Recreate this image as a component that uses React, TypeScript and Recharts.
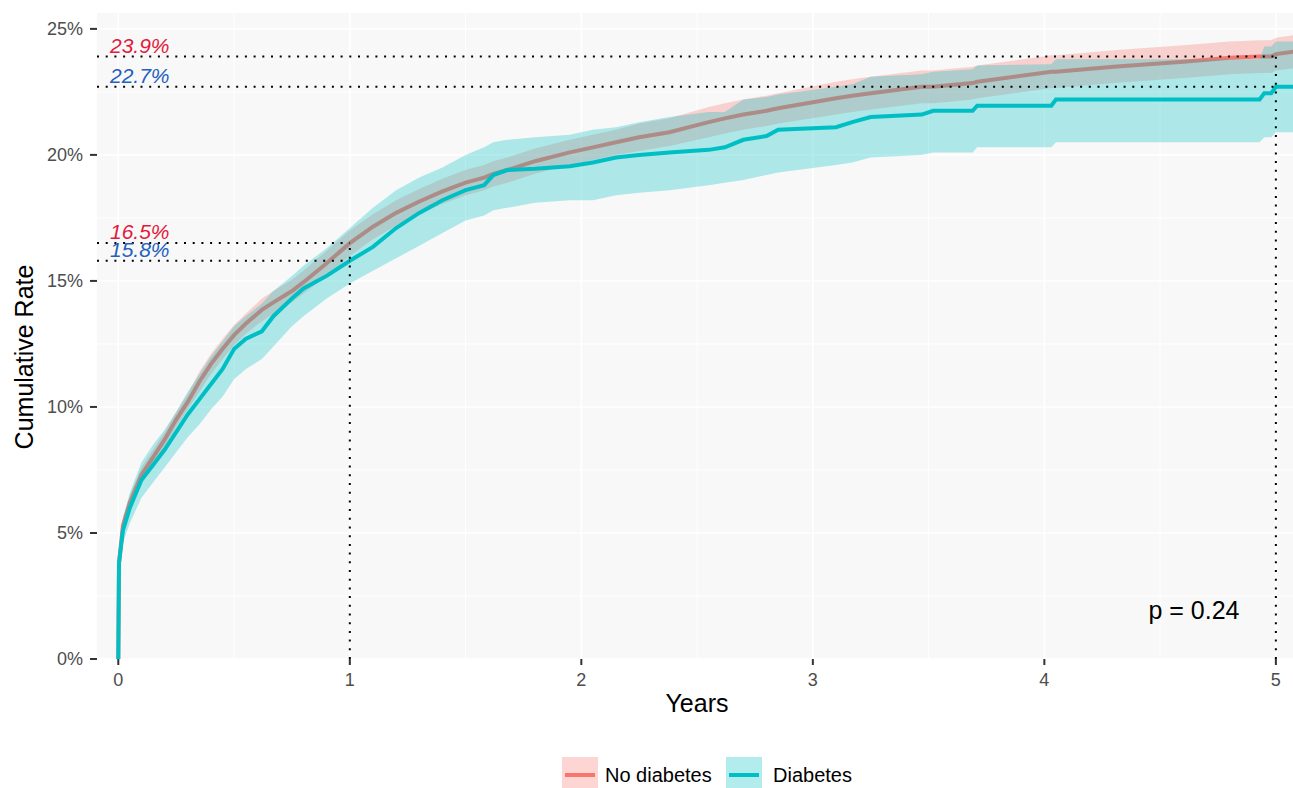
import {
  Area,
  CartesianGrid,
  ComposedChart,
  Line,
  ReferenceLine,
  XAxis,
  YAxis,
} from "recharts";

// follow-up time in years
const TIMES = [
  0, 0.003, 0.02, 0.05, 0.1, 0.15, 0.2, 0.25, 0.3, 0.35, 0.4, 0.45, 0.5, 0.55,
  0.62, 0.67, 0.75, 0.8, 0.9, 1.0, 1.1, 1.2, 1.3, 1.4, 1.5, 1.58, 1.62, 1.68,
  1.8, 1.95, 2.05, 2.15, 2.25, 2.38, 2.55, 2.62, 2.7, 2.8, 2.85, 3.1, 3.17,
  3.25, 3.47, 3.52, 3.69, 3.71, 4.03, 4.05, 4.3, 4.6, 4.8, 4.93, 4.95, 4.98,
  5.0, 5.08,
];

// cumulative rate (%) - no diabetes
const NO_DIAB = [
  0, 3.8, 5.3, 6.2, 7.3, 8.0, 8.7, 9.5, 10.2, 11.0, 11.7, 12.3, 12.85, 13.3,
  13.85, 14.15, 14.6, 14.95, 15.7, 16.5, 17.15, 17.7, 18.15, 18.55, 18.9, 19.1,
  19.25, 19.4, 19.75, 20.1, 20.3, 20.5, 20.7, 20.9, 21.3, 21.45, 21.6, 21.75,
  21.85, 22.25, 22.35, 22.45, 22.7, 22.7, 22.85, 22.9, 23.3, 23.3, 23.5, 23.7,
  23.85, 23.9, 23.9, 23.9, 24.0, 24.1,
];
const NO_DIAB_LO = [
  0, 3.6, 5.0, 5.9, 7.0, 7.7, 8.4, 9.2, 9.9, 10.6, 11.3, 11.9, 12.45, 12.9,
  13.4, 13.7, 14.15, 14.5, 15.2, 16.0, 16.65, 17.2, 17.65, 18.05, 18.4, 18.6,
  18.75, 18.9, 19.25, 19.6, 19.8, 20.0, 20.15, 20.35, 20.7, 20.85, 21.0, 21.15,
  21.25, 21.6, 21.7, 21.8, 22.05, 22.05, 22.2, 22.25, 22.65, 22.65, 22.85,
  23.05, 23.2, 23.25, 23.25, 23.25, 23.35, 23.45,
];
const NO_DIAB_HI = [
  0, 4.0, 5.6, 6.5, 7.6, 8.3, 9.0, 9.8, 10.5, 11.4, 12.1, 12.7, 13.25, 13.7,
  14.3, 14.6, 15.05, 15.4, 16.2, 17.0, 17.65, 18.2, 18.65, 19.05, 19.4, 19.6,
  19.75, 19.9, 20.25, 20.6, 20.8, 21.0, 21.25, 21.45, 21.9, 22.05, 22.2, 22.35,
  22.45, 22.9, 23.0, 23.1, 23.35, 23.35, 23.5, 23.55, 23.95, 23.95, 24.15,
  24.35, 24.5, 24.55, 24.55, 24.55, 24.65, 24.75,
];

// cumulative rate (%) - diabetes
const DIAB = [
  0, 3.8, 5.1, 6.0, 7.1, 7.7, 8.3, 9.0, 9.7, 10.3, 10.9, 11.5, 12.3, 12.7,
  13.0, 13.6, 14.3, 14.7, 15.2, 15.8, 16.35, 17.1, 17.7, 18.2, 18.6, 18.8,
  19.2, 19.4, 19.45, 19.55, 19.7, 19.9, 20.0, 20.1, 20.2, 20.3, 20.6, 20.75,
  21.0, 21.1, 21.3, 21.5, 21.6, 21.75, 21.75, 21.95, 21.95, 22.2, 22.2, 22.2,
  22.2, 22.2, 22.45, 22.45, 22.7, 22.7,
];
const DIAB_LO = [
  0, 3.4, 4.6, 5.4, 6.4, 7.0, 7.6, 8.2, 8.8, 9.3, 9.9, 10.4, 11.1, 11.5, 11.9,
  12.4, 13.2, 13.6, 14.3, 14.9, 15.4, 15.9, 16.4, 16.9, 17.4, 17.6, 17.8, 17.9,
  18.1, 18.2, 18.2, 18.4, 18.5, 18.6, 18.8, 18.9, 19.0, 19.2, 19.3, 19.6, 19.7,
  19.9, 20.0, 20.1, 20.1, 20.3, 20.3, 20.5, 20.5, 20.5, 20.5, 20.5, 20.7, 20.7,
  20.9, 20.9,
];
const DIAB_HI = [
  0, 4.2, 5.6, 6.6, 7.8, 8.5, 9.1, 9.8, 10.6, 11.3, 12.0, 12.6, 13.2, 13.6,
  14.1, 14.6, 15.2, 15.6, 16.3, 17.1, 17.9, 18.6, 19.1, 19.5, 20.0, 20.3, 20.5,
  20.6, 20.7, 20.8, 21.0, 21.1, 21.3, 21.5, 21.7, 21.7, 22.2, 22.3, 22.4, 22.7,
  22.8, 23.1, 23.2, 23.3, 23.4, 23.55, 23.6, 23.8, 23.8, 23.8, 23.8, 23.8,
  24.3, 24.3, 24.5, 24.5,
];

// landmark annotations
const LANDMARK_YEARS = [1, 5];
const NO_DIAB_AT = [16.5, 23.9];
const DIAB_AT = [15.8, 22.7];

const X_TICKS = [0, 1, 2, 3, 4, 5];
const X_MINOR = [0.5, 1.5, 2.5, 3.5, 4.5];
const Y_TICKS = [0, 5, 10, 15, 20, 25];
const Y_MINOR = [2.5, 7.5, 12.5, 17.5, 22.5];
const X_DOMAIN: [number, number] = [-0.092, 5.074];
const Y_DOMAIN: [number, number] = [0, 25.63];

const SERIES = ["No diabetes", "Diabetes"];
const P_TEXT = "p = 0.24";

const FONT = "'Liberation Sans', Arial, Helvetica, sans-serif";
const RED = "#F8766D";
const TEAL = "#00BFC4";
const RED_TXT = "#e31a3c";
const BLUE_TXT = "#1f60c0";

const data = TIMES.map((t, i) => ({
  t,
  noDiab: NO_DIAB[i],
  noDiabBand: [NO_DIAB_LO[i], NO_DIAB_HI[i]],
  diab: DIAB[i],
  diabBand: [DIAB_LO[i], DIAB_HI[i]],
}));

function valueLabel(text: string, color: string) {
  return ({ viewBox }: any) => (
    <text
      x={viewBox.x + 13}
      y={viewBox.y - 4}
      fill={color}
      fontSize={21}
      fontStyle="italic"
      fontFamily={FONT}
    >
      {text}
    </text>
  );
}

const dotted = { stroke: "#000", strokeWidth: 2, strokeDasharray: "2 6.7" };

export default function App() {
  return (
    <div style={{ position: "relative", width: 1293, height: 788, fontFamily: FONT }}>
      <style>{"body{margin:0}"}</style>
      <ComposedChart
        width={1293}
        height={788}
        data={data}
        margin={{ top: 13, right: 0, bottom: 0, left: 0 }}
      >
        <CartesianGrid
          fill="#f8f8f8"
          stroke="#ffffff"
          strokeWidth={1}
          horizontalValues={Y_MINOR}
          verticalValues={X_MINOR}
        />
        <CartesianGrid
          stroke="#ffffff"
          strokeWidth={1.6}
          horizontalValues={Y_TICKS}
          verticalValues={X_TICKS}
        />
        <XAxis
          dataKey="t"
          type="number"
          domain={X_DOMAIN}
          ticks={X_TICKS}
          allowDataOverflow
          interval={0}
          axisLine={false}
          tickSize={6}
          tickMargin={8}
          tickLine={{ stroke: "#333", strokeWidth: 2 }}
          tick={{ fill: "#4d4d4d", fontSize: 18, fontFamily: FONT }}
          height={129}
        />
        <YAxis
          type="number"
          domain={Y_DOMAIN}
          ticks={Y_TICKS}
          allowDataOverflow
          interval={0}
          axisLine={false}
          tickSize={7}
          tickMargin={7}
          tickLine={{ stroke: "#333", strokeWidth: 2 }}
          tick={{ fill: "#4d4d4d", fontSize: 18, fontFamily: FONT }}
          tickFormatter={(v: number) => `${v}%`}
          width={97}
        />
        <Area
          dataKey="noDiabBand"
          type="linear"
          stroke="none"
          fill={RED}
          fillOpacity={0.3}
          isAnimationActive={false}
          dot={false}
          activeDot={false}
        />
        <Area
          dataKey="noDiab"
          type="linear"
          stroke={RED}
          strokeWidth={4}
          fill="none"
          isAnimationActive={false}
          dot={false}
          activeDot={false}
        />
        <Area
          dataKey="diabBand"
          type="linear"
          stroke="none"
          fill={TEAL}
          fillOpacity={0.3}
          isAnimationActive={false}
          dot={false}
          activeDot={false}
        />
        <Line
          dataKey="diab"
          type="linear"
          stroke={TEAL}
          strokeWidth={4}
          dot={false}
          activeDot={false}
          isAnimationActive={false}
        />
        {LANDMARK_YEARS.map((yr, i) => (
          <ReferenceLine
            key={`nd-${yr}`}
            segment={[
              { x: X_DOMAIN[0], y: NO_DIAB_AT[i] },
              { x: yr, y: NO_DIAB_AT[i] },
            ]}
            ifOverflow="visible"
            {...dotted}
            label={valueLabel(`${NO_DIAB_AT[i]}%`, RED_TXT)}
          />
        ))}
        {LANDMARK_YEARS.map((yr, i) => (
          <ReferenceLine
            key={`d-${yr}`}
            segment={[
              { x: X_DOMAIN[0], y: DIAB_AT[i] },
              { x: yr, y: DIAB_AT[i] },
            ]}
            ifOverflow="visible"
            {...dotted}
            label={valueLabel(`${DIAB_AT[i]}%`, BLUE_TXT)}
          />
        ))}
        {LANDMARK_YEARS.map((yr, i) => (
          <ReferenceLine
            key={`v-${yr}`}
            segment={[
              { x: yr, y: 0 },
              { x: yr, y: Math.max(NO_DIAB_AT[i], DIAB_AT[i]) },
            ]}
            ifOverflow="visible"
            {...dotted}
          />
        ))}
      </ComposedChart>

      <svg
        width={1293}
        height={788}
        style={{ position: "absolute", left: 0, top: 0, pointerEvents: "none" }}
        fontFamily={FONT}
      >
        <text x={1194} y={619} fontSize={25} textAnchor="middle" fill="#000">
          {P_TEXT}
        </text>
        <text x={697} y={712} fontSize={25} textAnchor="middle" fill="#000">
          Years
        </text>
        <text
          x={33}
          y={357}
          fontSize={25}
          textAnchor="middle"
          fill="#000"
          transform="rotate(-90 33 357)"
        >
          Cumulative Rate
        </text>
        {/* legend */}
        <rect x={562} y={757} width={36} height={36} fill={RED} fillOpacity={0.3} />
        <line x1={565} x2={595} y1={775} y2={775} stroke={RED} strokeWidth={4} />
        <text x={605} y={782} fontSize={20} fill="#000">
          {SERIES[0]}
        </text>
        <rect x={726} y={757} width={36} height={36} fill={TEAL} fillOpacity={0.3} />
        <line x1={729} x2={759} y1={775} y2={775} stroke={TEAL} strokeWidth={4} />
        <text x={773} y={782} fontSize={20} fill="#000">
          {SERIES[1]}
        </text>
      </svg>
    </div>
  );
}
